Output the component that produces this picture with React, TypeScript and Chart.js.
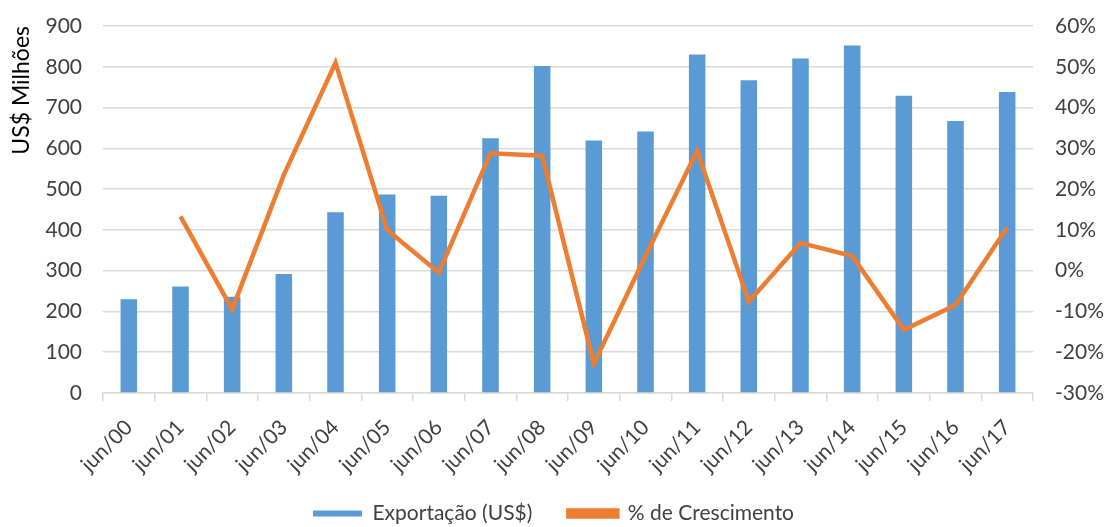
import React, { useEffect, useRef } from "react";
import { Chart, registerables } from "chart.js";

Chart.register(...registerables);

const categories = [
  "jun/00", "jun/01", "jun/02", "jun/03", "jun/04", "jun/05", "jun/06", "jun/07", "jun/08",
  "jun/09", "jun/10", "jun/11", "jun/12", "jun/13", "jun/14", "jun/15", "jun/16", "jun/17",
];
const exportValues = [230, 261, 236, 292, 443, 487, 484, 625, 802, 619, 641, 830, 767, 820, 852, 729, 667, 738];
const growthValues = [null, 13.3, -9.5, 23.5, 51, 10, -0.5, 28.8, 28.2, -22.8, 3.6, 29.4, -7.6, 6.8, 3.6, -14.5, -8.4, 10.6];
const leftTicks = [0, 100, 200, 300, 400, 500, 600, 700, 800, 900];
const rightTicks = [-30, -20, -10, 0, 10, 20, 30, 40, 50, 60];

const FONT = "Lato, 'Open Sans', sans-serif";
const TEXT = "#404040";
const GRID = "#d9d9d9";

export default function App() {
  const ref = useRef<HTMLCanvasElement | null>(null);
  useEffect(() => {
    if (!ref.current) return;
    const chart = new Chart(ref.current, {
      type: "bar",
      data: {
        labels: categories,
        datasets: [
          {
            type: "line",
            label: "% de Crescimento",
            data: growthValues,
            yAxisID: "y1",
            borderColor: "#ED7D31",
            backgroundColor: "#ED7D31",
            borderWidth: 4.5,
            pointRadius: 0,
            tension: 0,
            order: 0,
          } as any,
          {
            type: "bar",
            label: "Exportação (US$)",
            data: exportValues,
            yAxisID: "y",
            backgroundColor: "#5B9BD5",
            barPercentage: 0.32,
            categoryPercentage: 1,
            order: 1,
          },
        ],
      },
      options: {
        animation: false,
        responsive: true,
        maintainAspectRatio: false,
        layout: { autoPadding: false, padding: { top: 26, right: 0, left: 0, bottom: -7 } },
        plugins: {
          tooltip: { enabled: false },
          legend: {
            position: "bottom",
            reverse: true,
            labels: {
              font: { family: FONT, size: 21 },
              color: TEXT,
              boxWidth: 49,
              boxHeight: 6,
              padding: 36,
            },
          },
        },
        scales: {
          x: {
            offset: true,
            grid: { offset: true, drawOnChartArea: false, color: GRID, tickLength: 8, lineWidth: 1.5 },
            border: { color: GRID, width: 1.5 },
            ticks: {
              font: { family: FONT, size: 21 },
              color: TEXT,
              maxRotation: 45,
              minRotation: 45,
              padding: 14,
              labelOffset: 0,
              autoSkip: false,
            },
            afterFit: (s: any) => {
              s.height = 74;
              s._computeLabelArea = () => undefined;
            },
          },
          y: {
            position: "left",
            min: 0,
            max: 900,
            afterBuildTicks: (s: any) => { s.ticks = leftTicks.map((v) => ({ value: v })); },
            grid: { color: GRID, lineWidth: 1.5, drawTicks: true, tickLength: 18, tickColor: "rgba(0,0,0,0)" },
            border: { display: false },
            ticks: { font: { family: FONT, size: 21 }, color: TEXT, padding: 3 },
            title: {
              display: true,
              text: "US$ Milhões",
              align: "end",
              color: "#000",
              font: { family: FONT, size: 23 },
              padding: { top: 8, bottom: 0 },
            },
            afterFit: (s: any) => { s.width = 103; },
          },
          y1: {
            position: "right",
            min: -30,
            max: 60,
            afterBuildTicks: (s: any) => { s.ticks = rightTicks.map((v) => ({ value: v })); },
            grid: { display: true, drawOnChartArea: false, drawTicks: true, tickLength: 19, tickColor: "rgba(0,0,0,0)" },
            border: { display: false },
            ticks: {
              font: { family: FONT, size: 21 },
              color: TEXT,
              padding: 3,
              callback: (v: any) => v + "%",
            },
            afterFit: (s: any) => { s.width = 74; },
          },
        },
      },
    });
    return () => chart.destroy();
  }, []);
  return (
    <div style={{ position: "absolute", left: 0, top: 0, width: 1107, height: 527, background: "#fff" }}>
      <canvas ref={ref} />
    </div>
  );
}
